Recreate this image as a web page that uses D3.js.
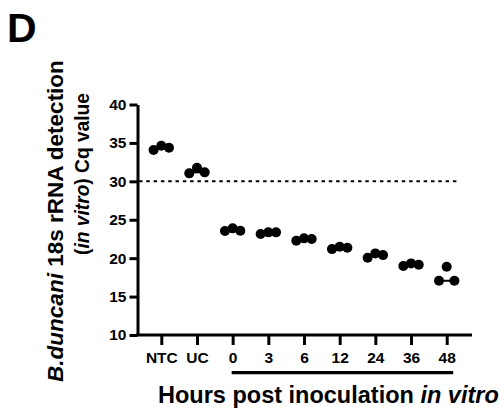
<!DOCTYPE html>
<html><head><meta charset="utf-8">
<script src="https://cdn.jsdelivr.net/npm/d3@7"></script>
<style>body{margin:0;background:#fff}svg{display:block}text{font-family:"Liberation Sans",Arial,sans-serif;font-weight:bold;fill:#000}</style>
</head><body>
<svg id="chart" width="499" height="411"></svg>
<script>
const categories = ["NTC","UC","0","3","6","12","24","36","48"];
const rep1 = [34.08,31.04,23.53,23.14,22.27,21.18,20.05,18.97,17.06];
const rep2 = [34.64,31.77,23.88,23.36,22.58,21.48,20.62,19.32,18.88];
const rep3 = [34.38,31.17,23.57,23.36,22.49,21.35,20.40,19.14,17.06];
const yTicks = [10,15,20,25,30,35,40];
const cutoff = 30;
const hoursGroup = ["0","48"];

const svg = d3.select("#chart");
const x = d3.scalePoint().domain(categories).range([161.3,446.7]);
const y = d3.scaleLinear().domain([10,40]).range([335,104.5]);
const axisX = 137.5;

// y axis
const ya = svg.append("g").attr("transform",`translate(${axisX},0)`)
  .call(d3.axisLeft(y).tickValues(yTicks).tickSize(8).tickPadding(3).tickSizeOuter(0));
ya.select(".domain").attr("stroke","#000").attr("stroke-width",3);
ya.selectAll(".tick line").attr("stroke","#000").attr("stroke-width",3);
ya.selectAll(".tick text").attr("font-size",15.5).attr("font-family","Liberation Sans, Arial").attr("font-weight","bold").attr("fill","#000");

// x axis
const xa = svg.append("g").attr("transform",`translate(0,${y(10)})`)
  .call(d3.axisBottom(x).tickSize(10).tickPadding(7).tickSizeOuter(0));
xa.select(".domain").attr("d",`M${axisX-1.5},0H472`).attr("stroke","#000").attr("stroke-width",3);
xa.selectAll(".tick line").attr("stroke","#000").attr("stroke-width",3);
xa.selectAll(".tick text").attr("font-size",15.5).attr("font-family","Liberation Sans, Arial").attr("font-weight","bold").attr("fill","#000");

// cutoff line
svg.append("line").attr("x1",axisX+1.5).attr("x2",457).attr("y1",y(cutoff)).attr("y2",y(cutoff))
  .attr("stroke","#000").attr("stroke-width",2).attr("stroke-dasharray","3.5 3.8");

// group bar under hours
svg.append("line").attr("x1",x(hoursGroup[0])-1).attr("x2",x(hoursGroup[1])+6.5)
  .attr("y1",372.7).attr("y2",372.7).attr("stroke","#000").attr("stroke-width",3.3);

// points
const pts = [];
categories.forEach((c,i)=>{[rep1,rep2,rep3].forEach((r,j)=>pts.push({c,v:r[i],j}));});
const off = 7.7;
// median lines
categories.forEach((c,i)=>{
  const m = d3.median([rep1[i],rep2[i],rep3[i]]);
  svg.append("line").attr("x1",x(c)-off).attr("x2",x(c)+off).attr("y1",y(m)).attr("y2",y(m))
    .attr("stroke","#000").attr("stroke-width",2);
});
svg.append("g").selectAll("circle").data(pts).join("circle")
  .attr("cx",d=>x(d.c)+(d.j-1)*off).attr("cy",d=>y(d.v)).attr("r",5).attr("fill","#000");

// titles
svg.append("text").attr("x",7).attr("y",42).attr("font-size",41).text("D");
const t1 = svg.append("text").attr("transform","translate(63,221) rotate(-90)").attr("text-anchor","middle").attr("font-size",22.5);
t1.append("tspan").attr("font-style","italic").text("B.duncani");
t1.append("tspan").text(" 18s rRNA detection");
const t2 = svg.append("text").attr("transform","translate(88.5,174) rotate(-90)").attr("text-anchor","middle").attr("font-size",20)
  .attr("textLength",162).attr("lengthAdjust","spacingAndGlyphs");
t2.append("tspan").text("(");
t2.append("tspan").attr("font-style","italic").text("in vitro");
t2.append("tspan").text(") Cq value");
const xt = svg.append("text").attr("x",158).attr("y",403).attr("font-size",23.5);
xt.append("tspan").text("Hours post inoculation ");
xt.append("tspan").attr("font-style","italic").text("in vitro");
</script>
</body></html>
